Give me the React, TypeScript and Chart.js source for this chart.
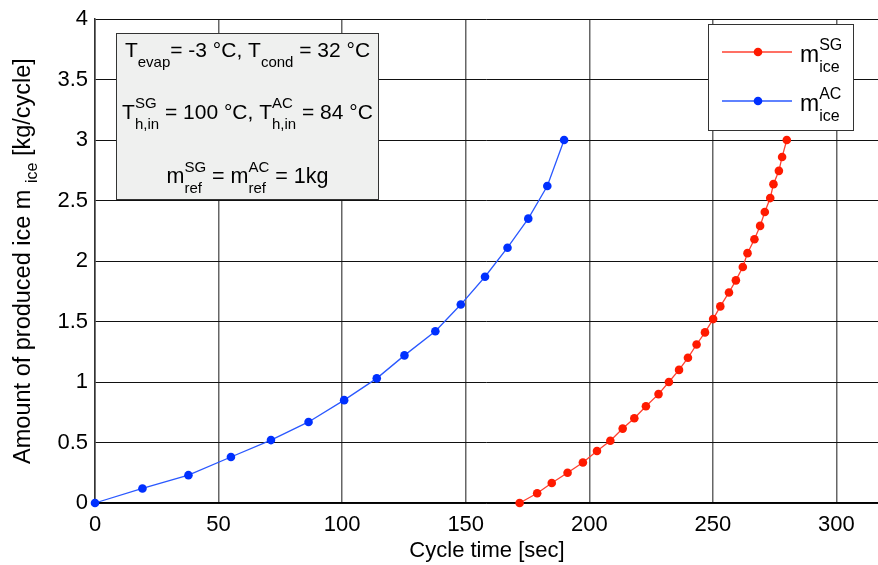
import React, { useEffect, useRef } from "react";
import { Chart, registerables } from "chart.js";

Chart.register(...registerables);

// ---- data ----
const acTime = [0, 19.2, 37.8, 55.0, 71.2, 86.4, 100.8, 114.0, 125.2, 137.7, 148.0, 157.8, 166.9, 175.3, 183.0, 189.8];
const acIce = [0, 0.12, 0.23, 0.38, 0.52, 0.67, 0.85, 1.03, 1.22, 1.42, 1.64, 1.87, 2.11, 2.35, 2.62, 3.0];

const sgTime = [171.8, 178.9, 184.8, 191.2, 197.4, 203.1, 208.5, 213.5, 218.2, 222.9, 228.0, 232.2, 236.3, 239.9, 243.4, 246.8, 250.1, 253.0, 256.5, 259.3, 262.1, 264.0, 266.8, 269.1, 271.0, 273.2, 274.5, 276.7, 278.0, 279.9];
const sgIce = [0, 0.08, 0.165, 0.25, 0.335, 0.43, 0.515, 0.615, 0.7, 0.8, 0.9, 1.0, 1.1, 1.2, 1.31, 1.41, 1.52, 1.625, 1.74, 1.84, 1.95, 2.065, 2.18, 2.29, 2.405, 2.52, 2.635, 2.745, 2.86, 3.0];

const xTicks = [0, 50, 100, 150, 200, 250, 300];
const yTicks = [0, 0.5, 1, 1.5, 2, 2.5, 3, 3.5, 4];

const FONT = '"Liberation Sans", Arial, Helvetica, sans-serif';
const RED = "#ff1a00";
const RED_LINE = "#ff4030";
const BLUE = "#0030ff";
const BLUE_LINE = "#2a58ff";

type Part = { t?: string; sup?: string; sub?: string };

function drawRich(
  ctx: CanvasRenderingContext2D,
  parts: Part[],
  x: number,
  y: number,
  align: "left" | "center",
  main: number,
  script: number,
  supDy: number,
  subDy: number
) {
  const mf = `${main}px ${FONT}`;
  const sf = `${script}px ${FONT}`;
  const widths = parts.map((p) => {
    if (p.t !== undefined) {
      ctx.font = mf;
      return ctx.measureText(p.t).width;
    }
    ctx.font = sf;
    return Math.max(
      p.sup ? ctx.measureText(p.sup).width : 0,
      p.sub ? ctx.measureText(p.sub).width : 0
    );
  });
  const total = widths.reduce((a, b) => a + b, 0);
  let cx = align === "center" ? x - total / 2 : x;
  ctx.textAlign = "left";
  ctx.textBaseline = "alphabetic";
  ctx.fillStyle = "#000";
  parts.forEach((p, i) => {
    if (p.t !== undefined) {
      ctx.font = mf;
      ctx.fillText(p.t, cx, y);
    } else {
      ctx.font = sf;
      if (p.sup) ctx.fillText(p.sup, cx, y + supDy);
      if (p.sub) ctx.fillText(p.sub, cx, y + subDy);
    }
    cx += widths[i];
  });
}

const zeroPad = (s: any) => {
  s.paddingLeft = 0;
  s.paddingRight = 0;
  s.paddingTop = 0;
  s.paddingBottom = 0;
};

const overlayPlugin = {
  id: "overlay",
  afterDraw(chart: any) {
    const ctx: CanvasRenderingContext2D = chart.ctx;
    const area = chart.chartArea;
    ctx.save();

    // axis titles
    drawRich(ctx, [{ t: "Cycle time [sec]" }], 487, 557, "center", 22, 15, -11, 7);
    ctx.save();
    ctx.translate(29.5, (area.top + area.bottom) / 2);
    ctx.rotate(-Math.PI / 2);
    drawRich(
      ctx,
      [{ t: "Amount of produced ice m " }, { sub: "ice" }, { t: " [kg/cycle]" }],
      0,
      0,
      "center",
      23.5,
      16,
      -11,
      7
    );
    ctx.restore();

    // annotation box
    const bx = 116.5, by = 33.5, bw = 262, bh = 166;
    ctx.fillStyle = "#eff0ef";
    ctx.fillRect(bx, by, bw, bh);
    ctx.strokeStyle = "#333";
    ctx.lineWidth = 1;
    ctx.strokeRect(bx, by, bw, bh);
    const cxBox = bx + bw / 2;
    drawRich(
      ctx,
      [{ t: "T" }, { sub: "evap" }, { t: "= -3 °C, T" }, { sub: "cond" }, { t: " = 32 °C" }],
      cxBox,
      57,
      "center",
      21,
      15,
      -11,
      10
    );
    drawRich(
      ctx,
      [{ t: "T" }, { sup: "SG", sub: "h,in" }, { t: " = 100 °C, T" }, { sup: "AC", sub: "h,in" }, { t: " = 84 °C" }],
      cxBox,
      118.5,
      "center",
      21,
      15,
      -11,
      10
    );
    drawRich(
      ctx,
      [{ t: "m" }, { sup: "SG", sub: "ref" }, { t: " = m" }, { sup: "AC", sub: "ref" }, { t: " = 1kg" }],
      cxBox,
      183,
      "center",
      21.5,
      15,
      -11,
      10
    );

    // legend
    const lx = 708.5, ly = 24.5, lw = 145, lh = 106;
    ctx.fillStyle = "#fff";
    ctx.fillRect(lx, ly, lw, lh);
    ctx.strokeStyle = "#333";
    ctx.lineWidth = 1;
    ctx.strokeRect(lx, ly, lw, lh);
    const entries = [
      { line: RED_LINE, dot: RED, sup: "SG", y: 52 },
      { line: BLUE_LINE, dot: BLUE, sup: "AC", y: 101 },
    ];
    entries.forEach((e) => {
      ctx.strokeStyle = e.line;
      ctx.lineWidth = 1.3;
      ctx.beginPath();
      ctx.moveTo(722, e.y);
      ctx.lineTo(792, e.y);
      ctx.stroke();
      ctx.fillStyle = e.dot;
      ctx.beginPath();
      ctx.arc(758, e.y, 4.3, 0, Math.PI * 2);
      ctx.fill();
      drawRich(ctx, [{ t: "m" }, { sup: e.sup, sub: "ice" }], 800, e.y + 9.5, "left", 23, 16, -12, 10);
    });

    ctx.restore();
  },
};

export default function App() {
  const ref = useRef<HTMLCanvasElement | null>(null);

  useEffect(() => {
    document.body.style.margin = "0";
    const canvas = ref.current;
    if (!canvas) return;
    const chart = new Chart(canvas, {
      type: "line",
      data: {
        datasets: [
          {
            label: "SG",
            data: sgTime.map((x, i) => ({ x, y: sgIce[i] })),
            borderColor: RED_LINE,
            backgroundColor: RED,
            pointBackgroundColor: RED,
            pointBorderWidth: 0,
            pointRadius: 4.3,
            borderWidth: 1.3,
            tension: 0,
            clip: 6,
          },
          {
            label: "AC",
            data: acTime.map((x, i) => ({ x, y: acIce[i] })),
            borderColor: BLUE_LINE,
            backgroundColor: BLUE,
            pointBackgroundColor: BLUE,
            pointBorderWidth: 0,
            pointRadius: 4.3,
            borderWidth: 1.3,
            tension: 0,
            clip: 6,
          },
        ],
      },
      options: {
        animation: false,
        responsive: false,
        layout: { autoPadding: false, padding: { top: 19, right: 0, left: 0, bottom: 0 } },
        plugins: {
          legend: { display: false },
          tooltip: { enabled: false },
          title: { display: false },
        },
        scales: {
          x: {
            type: "linear",
            min: 0,
            max: 316.8,
            afterBuildTicks: (axis: any) => {
              axis.ticks = xTicks.map((v) => ({ value: v }));
            },
            afterFit: (scale: any) => {
              scale.height = 62;
              zeroPad(scale);
            },
            grid: { color: "#666", lineWidth: 1.5, drawTicks: false },
            border: { display: true, color: "#000", width: 1.2 },
            ticks: {
              padding: 9,
              color: "#000",
              font: { family: FONT, size: 22 },
              maxRotation: 0,
              autoSkip: false,
            },
          },
          y: {
            type: "linear",
            min: 0,
            max: 4,
            afterBuildTicks: (axis: any) => {
              axis.ticks = yTicks.map((v) => ({ value: v }));
            },
            afterFit: (scale: any) => {
              scale.width = 95;
              zeroPad(scale);
            },
            grid: { color: "#111", lineWidth: 1, drawTicks: false },
            border: { display: true, color: "#333", width: 1.5 },
            ticks: {
              padding: 7,
              color: "#000",
              font: { family: FONT, size: 22 },
              autoSkip: false,
              callback: (v: any) => String(v),
            },
          },
        },
      },
      plugins: [overlayPlugin],
    });
    return () => chart.destroy();
  }, []);

  return (
    <div style={{ width: 878, height: 565, background: "#fff" }}>
      <canvas ref={ref} width={878} height={565} style={{ display: "block" }} />
    </div>
  );
}
